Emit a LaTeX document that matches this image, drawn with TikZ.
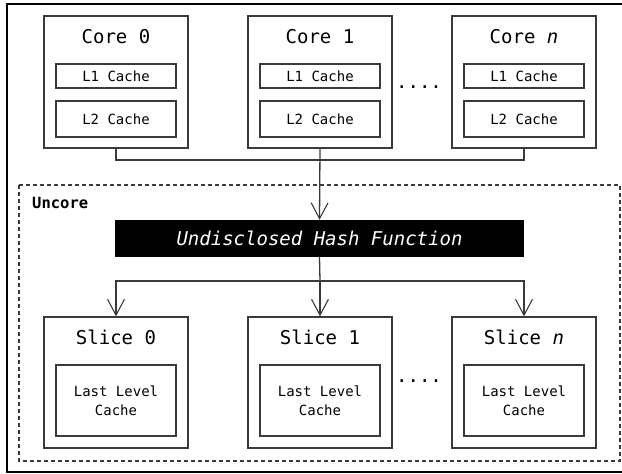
\documentclass[tikz,border=0pt]{standalone}
\usepackage{fontspec}
\setmonofont{DejaVu Sans Mono}
\usetikzlibrary{arrows.meta}
\definecolor{edge}{HTML}{3A3A3A}
\tikzset{
  unit/.style={draw=edge, line width=1.3pt, minimum width=144pt, minimum height=132pt, inner sep=0pt},
  cachebox/.style={draw=edge, line width=1.3pt, minimum width=120pt, inner sep=0pt,
    font=\ttfamily\fontsize{14}{19.5}\selectfont, align=center},
  title/.style={font=\ttfamily\fontsize{19}{22}\selectfont, inner sep=0pt},
  wire/.style={draw=edge, line width=1.3pt},
  tip/.style={wire, -{Straight Barb[angle=56:18pt, line width=1.1pt]}},
}
\begin{document}
\begin{tikzpicture}[x=1pt, y=-1pt]
\useasboundingbox (0,0) rectangle (622,474);
% outer frame and uncore region
\draw[line width=1.8pt, black] (7,4) rectangle (632,472);
\draw[edge, line width=1.2pt, dash pattern=on 4pt off 3pt] (19,185) rectangle (620,461);
\node[anchor=west, font=\ttfamily\bfseries\fontsize{15.5}{18}\selectfont, inner sep=0pt] (uncore) at (32,203) {Uncore};

% cores
\foreach \x/\n/\lab in {116/core0/Core 0, 320/core1/Core 1, 524/coren/Core \textit{n}} {
  \node[unit] (\n) at (\x,82) {};
  \node[title] (\n-t) at (\x,37) {\lab};
  \node[cachebox, minimum height=24pt] (\n-l1) at (\x,76) {L1 Cache};
  \node[cachebox, minimum height=36pt] (\n-l2) at (\x,119) {L2 Cache};
}
\node[title] (dotsA) at (419,87) {....};

% hash
\node[fill=black, minimum width=409pt, minimum height=37pt, inner sep=0pt,
      text=white, font=\ttfamily\itshape\fontsize{19}{22}\selectfont] (hash) at (319.5,238.5) {Undisclosed Hash Function};

% slices
\foreach \x/\n/\lab in {116/slice0/Slice 0, 320/slice1/Slice 1, 524/slicen/Slice \textit{n}} {
  \node[unit, minimum height=131pt] (\n) at (\x,382.5) {};
  \node[title] (\n-t) at (\x,337) {\lab};
  \node[cachebox, minimum height=71pt] (\n-llc) at (\x,400.5) {Last Level\\Cache};
}
\node[title] (dotsB) at (419,381) {....};

% connections
\coordinate (bus) at (320,160);
\coordinate (split) at (320,281);
\draw[wire] (core0.south) |- (bus) -| (coren.south);
\draw[tip] (core1.south) -- (hash.north);
\draw[wire] (hash.south) -- (split);
\draw[tip] (split) -| (slice0.north);
\draw[tip] (split) -| (slicen.north);
\draw[tip] (split) -- (slice1.north);
\end{tikzpicture}
\end{document}
